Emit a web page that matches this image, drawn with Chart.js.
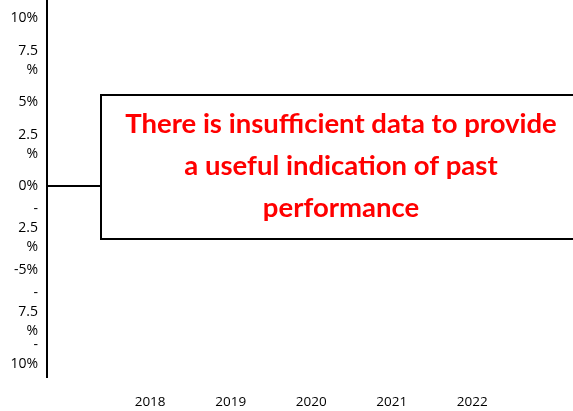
<!DOCTYPE html>
<html>
<head>
<meta charset="utf-8">
<script src="https://cdn.jsdelivr.net/npm/chart.js@4.4.1/dist/chart.umd.min.js"></script>
<style>
  html, body { margin: 0; padding: 0; background: #fff; }
  #wrap { width: 573px; height: 411px; }
</style>
</head>
<body>
<div id="wrap"><canvas id="myChart" width="573" height="411"></canvas></div>
<script>
// categories shown on the x axis
const years = [2018, 2019, 2020, 2021, 2022];
// y axis tick values and their (wrapped) labels, as in the original
const yTicks = [10, 7.5, 5, 2.5, 0, -2.5, -5, -7.5, -10];
const yTickLabels = [
  ['10%'], ['7.5', '%'], ['5%'], ['2.5', '%'], ['0%'],
  ['-', '2.5', '%'], ['-5%'], ['-', '7.5', '%'], ['-', '10%']
];
// no performance values available
const returns = [null, null, null, null, null];
const message = ['There is insufficient data to provide', 'a useful indication of past', 'performance'];

// white box with the red notice, drawn over the plot
const noticeBox = {
  id: 'noticeBox',
  afterDraw(chart) {
    const ctx = chart.ctx;
    const left = 101, top = 95, bottom = 239, right = 600;
    ctx.save();
    ctx.fillStyle = '#fff';
    ctx.fillRect(left, top, right - left, bottom - top);
    ctx.strokeStyle = '#000';
    ctx.lineWidth = 2;
    ctx.strokeRect(left, top, right - left, bottom - top);

    ctx.fillStyle = '#ff0000';
    ctx.textAlign = 'center';
    ctx.textBaseline = 'middle';
    let size = 24;
    ctx.font = 'bold ' + size + 'px Lato';
    const w = ctx.measureText(message[0]).width;
    size = size * 432 / w;   // fit first line to the original's width
    ctx.font = 'bold ' + size.toFixed(1) + 'px Lato';
    const cx = 341;
    for (let i = 0; i < message.length; i++) {
      ctx.fillText(message[i], cx, 124 + i * 42);
    }
    ctx.restore();
  }
};

const ctx = document.getElementById('myChart');
new Chart(ctx, {
  type: 'line',
  data: {
    datasets: [{
      label: 'Performance',
      data: years.map((y, i) => ({ x: y, y: returns[i] })),
      borderColor: '#000',
      pointRadius: 0
    }]
  },
  options: {
    responsive: false,
    animation: false,
    layout: { padding: 0 },
    plugins: {
      legend: { display: false },
      tooltip: { enabled: false }
    },
    scales: {
      x: {
        type: 'linear',
        min: 2016.72,
        max: 2023.25,
        afterBuildTicks: (scale) => { scale.ticks = years.map(v => ({ value: v })); },
        afterFit: (scale) => {
          scale.height = 34;
          scale.paddingLeft = 0;
          scale.paddingRight = 0;
        },
        ticks: {
          color: '#000',
          font: { family: 'Open Sans', size: 13.5 },
          padding: 17,
          maxRotation: 0,
          autoSkip: false,
          callback: (v) => String(v)
        },
        grid: { display: false, drawTicks: false },
        border: { display: false }
      },
      y: {
        min: -11.35,
        max: 11.1,
        afterBuildTicks: (scale) => { scale.ticks = yTicks.map(v => ({ value: v })); },
        afterFit: (scale) => {
          scale.width = 47;
          scale.paddingTop = 0;
          scale.paddingBottom = 0;
        },
        ticks: {
          color: '#000',
          font: { family: 'Open Sans', size: 14, lineHeight: 1.35 },
          padding: 9,
          autoSkip: false,
          callback: (v) => yTickLabels[yTicks.indexOf(v)]
        },
        grid: {
          drawTicks: false,
          lineWidth: 2,
          color: (c) => (c.tick && c.tick.value === 0 ? '#000' : 'rgba(0,0,0,0)')
        },
        border: { display: true, color: '#000', width: 2 }
      }
    }
  },
  plugins: [noticeBox]
});
</script>
</body>
</html>
